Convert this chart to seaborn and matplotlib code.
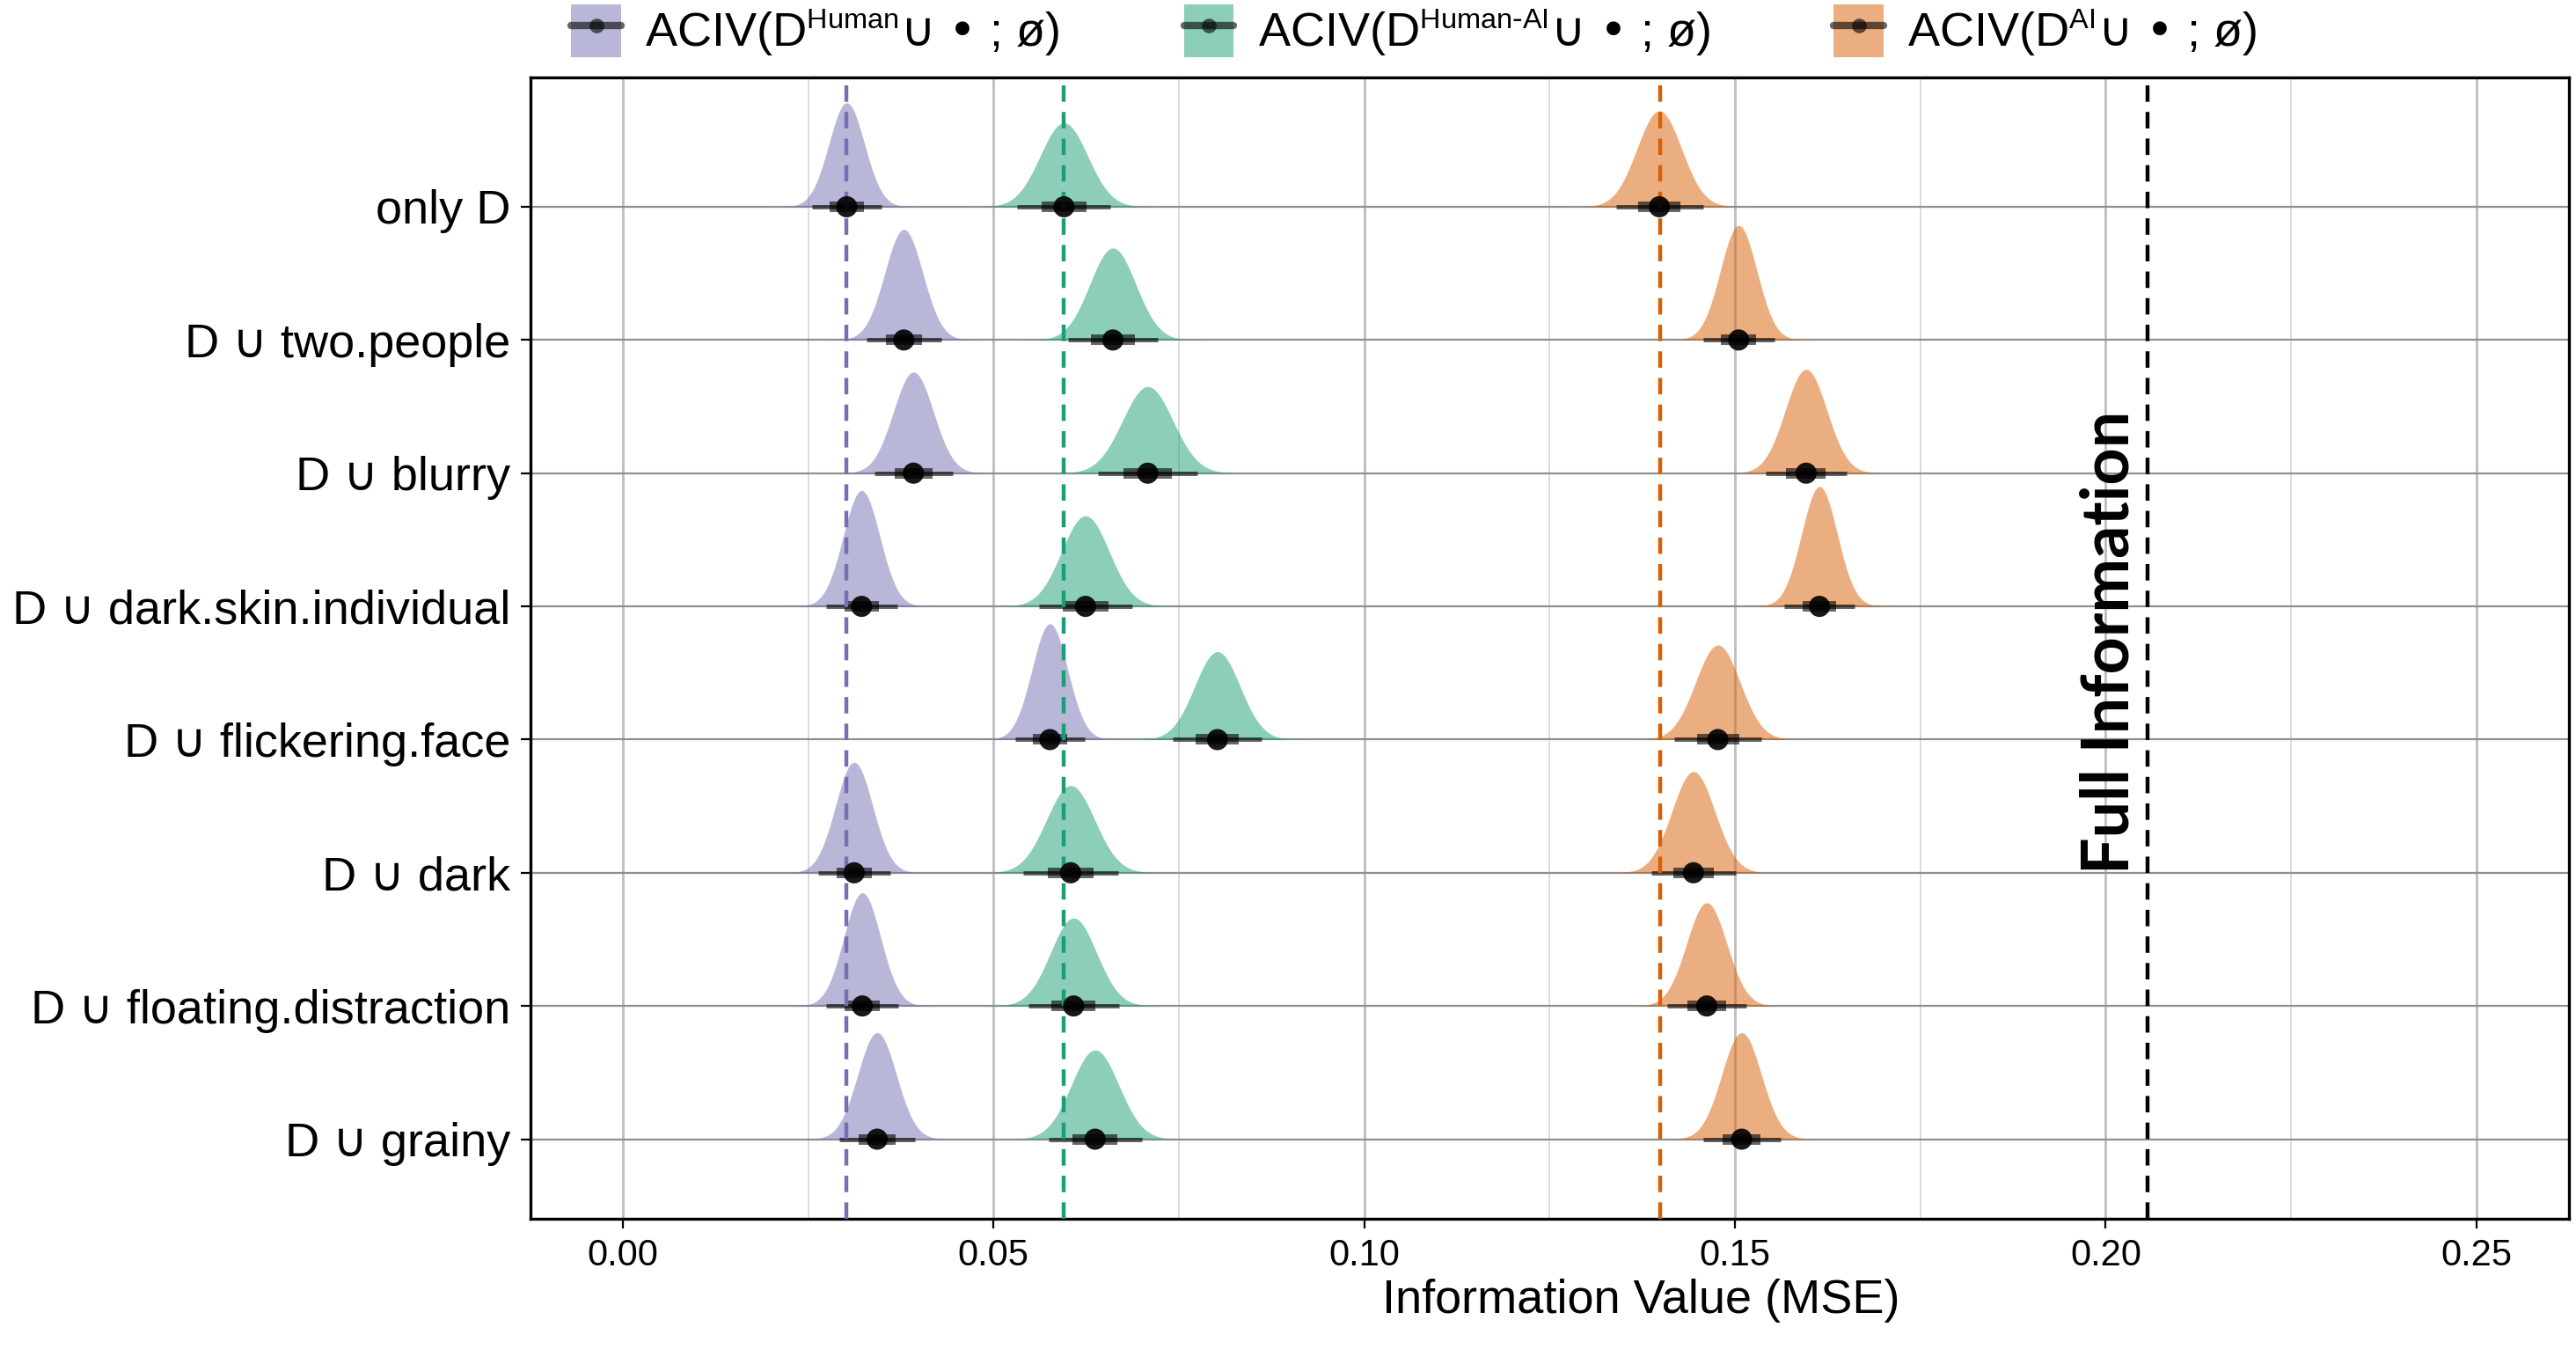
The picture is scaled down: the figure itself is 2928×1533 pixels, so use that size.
import numpy as np
import pandas as pd
import matplotlib
matplotlib.use("Agg")
import matplotlib.pyplot as plt
import seaborn as sns
from matplotlib.patches import Patch
from matplotlib.lines import Line2D
from matplotlib.legend_handler import HandlerTuple

try:
    import matplotlib._mathtext as _mt
    _mt.SHRINK_FACTOR = 0.6
except Exception:
    pass

# ---------------- data ----------------
conditions = ["only D", "D ∪ two.people", "D ∪ blurry", "D ∪ dark.skin.individual",
              "D ∪ flickering.face", "D ∪ dark", "D ∪ floating.distraction", "D ∪ grainy"]

human_median = [0.0302, 0.0379, 0.0392, 0.0322, 0.0576, 0.0312, 0.0323, 0.0343]
human_sd = [0.0024, 0.00256, 0.0027, 0.00246, 0.0024, 0.0025, 0.00248, 0.0026]
human_peak = [0.78, 0.83, 0.76, 0.87, 0.87, 0.83, 0.85, 0.80]

humanai_median = [0.0595, 0.0661, 0.0708, 0.0624, 0.0802, 0.0604, 0.0608, 0.0637]
humanai_sd = [0.0032, 0.0031, 0.0034, 0.0032, 0.00305, 0.00325, 0.0031, 0.0032]
humanai_peak = [0.63, 0.69, 0.65, 0.68, 0.66, 0.655, 0.66, 0.67]

ai_median = [0.1398, 0.1505, 0.1596, 0.1614, 0.1477, 0.1444, 0.1462, 0.1509]
ai_sd = [0.0030, 0.00246, 0.0028, 0.0024, 0.0030, 0.0029, 0.0027, 0.00267]
ai_peak = [0.72, 0.86, 0.78, 0.90, 0.71, 0.76, 0.775, 0.80]

reference_lines = [0.0302, 0.0595, 0.1399]
full_information = 0.2057

series_labels = [r"ACIV(D$^{\mathregular{Human}}{\cup}$ • ; ø)",
                 r"ACIV(D$^{\mathregular{Human\text{-}AI}}{\cup}$ • ; ø)",
                 r"ACIV(D$^{\mathregular{AI}}{\cup}$ • ; ø)"]
series_colors = ["#7570B3", "#1B9E77", "#D95F02"]

x_ticks = [0.00, 0.05, 0.10, 0.15, 0.20, 0.25]
x_minor = [0.025, 0.075, 0.125, 0.175, 0.225]

# ---------------- style ----------------
sns.set_theme(style="white")
plt.rcParams["font.family"] = ["Liberation Sans", "DejaVu Sans"]
plt.rcParams["mathtext.fontset"] = "dejavusans"
for k in ["text.color", "axes.labelcolor", "xtick.color", "ytick.color"]:
    plt.rcParams[k] = "black"

n = len(conditions)
rows = []
for g, (med, sd, pk) in enumerate([(human_median, human_sd, human_peak),
                                    (humanai_median, humanai_sd, humanai_peak),
                                    (ai_median, ai_sd, ai_peak)]):
    for i in range(n):
        rows.append(dict(cond=conditions[i], ypos=n - 1 - i, group=g,
                         median=med[i], sd=sd[i], peak=pk[i]))
df = pd.DataFrame(rows)
df["lo95"] = df["median"] - 1.96 * df["sd"]
df["hi95"] = df["median"] + 1.96 * df["sd"]
df["lo66"] = df["median"] - 0.954 * df["sd"]
df["hi66"] = df["median"] + 0.954 * df["sd"]

fig = plt.figure(figsize=(14.64, 7.665), dpi=200)
ax = fig.add_axes([0.2058, 0.0965, 0.9973 - 0.2058, 0.9426 - 0.0965])

# grid
ax.set_axisbelow(True)
for xv in x_ticks:
    ax.axvline(xv, color="#BDBDBD", lw=1.0, zorder=0)
for xv in x_minor:
    ax.axvline(xv, color="#D6D6D6", lw=0.6, zorder=0)
for yv in range(n):
    ax.axhline(yv, color="#8F8F8F", lw=0.8, zorder=0)

# slabs
for _, r in df.iterrows():
    xs = np.linspace(r["median"] - 4.2 * r["sd"], r["median"] + 4.2 * r["sd"], 300)
    ys = r["ypos"] + r["peak"] * np.exp(-0.5 * ((xs - r["median"]) / r["sd"]) ** 2)
    ax.fill_between(xs, r["ypos"], ys, color=series_colors[int(r["group"])],
                    alpha=0.5, lw=0, zorder=2)

# intervals
ax.hlines(df["ypos"], df["lo95"], df["hi95"], color="black", alpha=0.6,
          lw=1.8, zorder=3, capstyle="butt")
ax.hlines(df["ypos"], df["lo66"], df["hi66"], color="black", alpha=0.6,
          lw=4.3, zorder=3, capstyle="butt")

# reference lines
for xv, c in zip(reference_lines, series_colors):
    ax.axvline(xv, color=c, lw=1.6, ls=(0, (4.2, 2.6)), zorder=4)
ax.axvline(full_information, color="black", lw=1.6, ls=(0, (4.2, 2.6)), zorder=4)

# points
sns.scatterplot(data=df, x="median", y="ypos", color="black", s=75, alpha=0.9,
                edgecolor="none", linewidth=0, zorder=5, legend=False, ax=ax)

ax.text(0.2005, 3.73, "Full Information", rotation=90, ha="center", va="center",
        fontsize=26.5, fontweight="bold", color="black",
        family=["Lato", "DejaVu Sans"], zorder=6)

# axes
ax.set_xlim(-0.0125, 0.2625)
ax.set_ylim(-0.598, 7.971)
ax.set_xticks(x_ticks)
ax.set_xticklabels([f"{v:.2f}" for v in x_ticks], fontsize=15)
ax.set_yticks(range(n))
ax.set_yticklabels([conditions[n - 1 - k] for k in range(n)], fontsize=19.5)
ax.tick_params(axis="both", which="major", length=4, width=0.8, color="black",
               direction="out", bottom=True, left=True, pad=4)
ax.set_xlabel("Information Value (MSE)", fontsize=19.5)
ax.xaxis.set_label_coords(0.545, -0.052)
ax.set_ylabel("")
for s in ax.spines.values():
    s.set_color("black")
    s.set_linewidth(1.2)
    s.set_visible(True)

# legend
handles = []
for c in series_colors:
    p = Patch(facecolor=c, alpha=0.5, edgecolor="none")
    l = Line2D([0], [0], color="black", alpha=0.6, lw=3, marker="o",
               markersize=6, markerfacecolor="black", markeredgecolor="none")
    handles.append((p, l))
fig.legend(handles, series_labels, loc="center", bbox_to_anchor=(0.549, 0.977),
           ncol=3, frameon=False, fontsize=19.5, handlelength=1.05,
           handleheight=1.35, handletextpad=0.5, columnspacing=2.6,
           handler_map={tuple: HandlerTuple(ndivide=1, pad=0)})

fig.savefig("out.png", dpi=200)
